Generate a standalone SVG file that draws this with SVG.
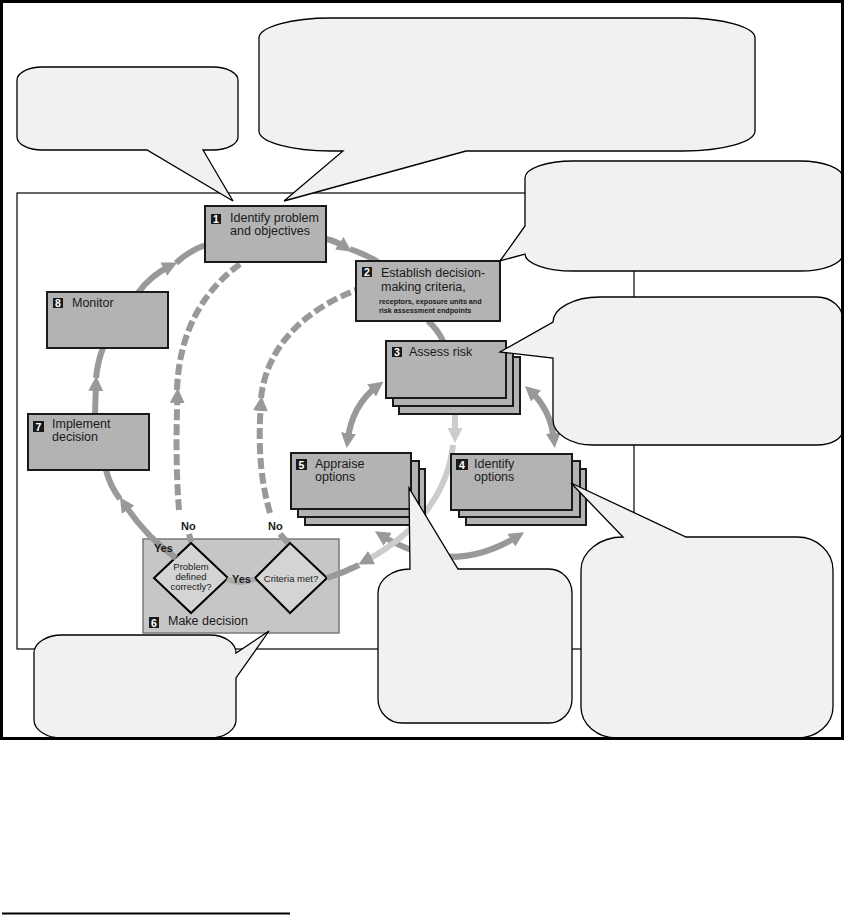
<svg xmlns="http://www.w3.org/2000/svg" width="844" height="915" viewBox="0 0 844 915">
<style>
.node{fill:#b3b3b3;stroke:#1a1a1a;stroke-width:2}
.callout{fill:#f1f1f1;stroke:#000;stroke-width:1.3}
.lbl{font-family:"Liberation Sans",Arial,sans-serif;font-size:12.5px;fill:#1a1a1a}
.tiny{font-family:"Liberation Sans",Arial,sans-serif;font-size:7.2px;font-weight:bold;fill:#1a1a1a}
.num{font-family:"Liberation Sans",Arial,sans-serif;font-size:10.5px;font-weight:bold;fill:#fff;text-anchor:middle}
.badge{fill:#1a1a1a}
.c{fill:none;stroke:#999;stroke-width:6}
.d{stroke-dasharray:11 4}
.light{stroke:#cccccc}
.yn{font-family:"Liberation Sans",Arial,sans-serif;font-weight:bold;font-size:11px;fill:#1a1a1a}
.dia{fill:#d4d4d4;stroke:#000;stroke-width:2}
.dt{font-family:"Liberation Sans",Arial,sans-serif;font-size:9.5px;fill:#1a1a1a;text-anchor:middle}
</style>
<defs>
<marker id="ah" viewBox="0 0 10 10" refX="5" refY="5" markerWidth="15" markerHeight="15" markerUnits="userSpaceOnUse" orient="auto-start-reverse"><path d="M0,0 L10,5 L0,10 z" fill="#999"/></marker>
<marker id="ahl" viewBox="0 0 10 10" refX="5" refY="5" markerWidth="15" markerHeight="15" markerUnits="userSpaceOnUse" orient="auto-start-reverse"><path d="M0,0 L10,5 L0,10 z" fill="#cccccc"/></marker>
</defs>
<rect x="0" y="0" width="844" height="915" fill="#fff"/>
<rect id="inner-frame" x="17" y="193" width="617" height="456" fill="none" stroke="#000" stroke-width="1.2"/>

<g id="node6">
<rect x="143" y="539" width="196" height="94" fill="#c6c6c6" stroke="#7a7a7a" stroke-width="1.5"/>
<polygon class="dia" points="191,543 228,578 191,613 154,578"/>
<text class="dt" x="191" y="570">Problem</text>
<text class="dt" x="191" y="580">defined</text>
<text class="dt" x="191" y="590">correctly?</text>
<polygon class="dia" points="290,543 327,578 290,613 255,578"/>
<text class="dt" x="291" y="582">Criteria met?</text>
<rect class="badge" x="149" y="617" width="10" height="11"/>
<text class="num" x="154" y="626.5">6</text>
<text class="lbl" x="168" y="625">Make decision</text>
</g>

<g id="connectors">
<path class="c" d="M95,414 L96,383.5" marker-end="url(#ah)"/>
<path class="c" d="M96,378 Q98,360 103,348"/>
<path class="c" d="M138,293 Q150,276 170.5,265.8" marker-end="url(#ah)"/>
<path class="c" d="M176,263 Q190,250 206,245"/>
<path class="c" d="M326,239 Q336,241 345.4,247.5" marker-end="url(#ah)"/>
<path class="c" d="M350,249 Q365,254 378,262"/>
<path class="c" d="M428,321 Q438,330 443,341"/>
<path class="c" d="M176,558 Q146,537 124,503.5" marker-end="url(#ah)"/>
<path class="c" d="M120,499 Q110,486 106,470"/>
<path class="c d" d="M179,510 Q175,460 177.5,395.5" marker-end="url(#ah)"/>
<path class="c d" d="M177,390 C179,330 205,288 243,262"/>
<path class="c d" d="M270,513 Q256,465 261,403.5" marker-end="url(#ah)"/>
<path class="c d" d="M261,398 C266,350 300,312 356,290"/>
<path class="c" d="M189,534 L191,542" stroke-width="5"/>
<path class="c" d="M280,534 L288,543" stroke-width="5"/>
<path class="c" d="M377.5,386 Q352,405 347.6,440.5" marker-start="url(#ah)" marker-end="url(#ah)"/>
<path class="c" d="M530.5,391 Q551,410 554,440.5" marker-start="url(#ah)" marker-end="url(#ah)"/>
<path class="c" d="M381.3,535.3 Q450,578 517.7,536.3" marker-start="url(#ah)" marker-end="url(#ah)"/>
<path class="c light" d="M455,413 L455,435.5" marker-end="url(#ahl)"/>
<path class="c light" d="M453,445 C448,490 420,532 365,561" marker-end="url(#ah)"/>
<path class="c" d="M359,565 Q343,573 327,578"/>
<path d="M227,579 Q241,586 255,579" fill="none" stroke="#aaa" stroke-width="5"/>
<text class="yn" x="154" y="552">Yes</text>
<text class="yn" x="232" y="583">Yes</text>
<text class="yn" x="181" y="530">No</text>
<text class="yn" x="268" y="530">No</text>
</g>

<g id="node1">
<rect class="node" x="205" y="206" width="121" height="56"/>
<rect class="badge" x="211" y="214" width="10" height="10"/>
<text class="num" x="216" y="223">1</text>
<text class="lbl" x="230" y="222">Identify problem</text>
<text class="lbl" x="230" y="235">and objectives</text>
</g>
<g id="node2">
<rect class="node" x="356" y="261" width="144" height="60"/>
<rect class="badge" x="362" y="267" width="10" height="10"/>
<text class="num" x="367" y="276">2</text>
<text class="lbl" x="381" y="277">Establish decision-</text>
<text class="lbl" x="381" y="291">making criteria,</text>
<text class="tiny" x="379" y="304">receptors, exposure units and</text>
<text class="tiny" x="379" y="313">risk assessment endpoints</text>
</g>
<g id="node3">
<rect class="node" x="399" y="357" width="121" height="57"/>
<rect class="node" x="393" y="349" width="120" height="57"/>
<rect class="node" x="386" y="341" width="120" height="57"/>
<rect class="badge" x="392" y="347" width="10" height="10"/>
<text class="num" x="397" y="356">3</text>
<text class="lbl" x="409" y="356">Assess risk</text>
</g>
<g id="node5">
<rect class="node" x="305" y="469" width="120" height="56"/>
<rect class="node" x="298" y="461" width="121" height="56"/>
<rect class="node" x="291" y="453" width="120" height="56"/>
<rect class="badge" x="296" y="459" width="11" height="11"/>
<text class="num" x="301.5" y="468.5">5</text>
<text class="lbl" x="315" y="468">Appraise</text>
<text class="lbl" x="315" y="481">options</text>
</g>
<g id="node4">
<rect class="node" x="466" y="469" width="120" height="56"/>
<rect class="node" x="459" y="461" width="121" height="56"/>
<rect class="node" x="451" y="454" width="121" height="56"/>
<rect class="badge" x="456" y="459" width="12" height="11"/>
<text class="num" x="462" y="468.5">4</text>
<text class="lbl" x="474" y="468">Identify</text>
<text class="lbl" x="474" y="481">options</text>
</g>
<g id="node8">
<rect class="node" x="47" y="292" width="121" height="56"/>
<rect class="badge" x="53" y="298" width="10" height="10"/>
<text class="num" x="58" y="307">8</text>
<text class="lbl" x="72" y="307">Monitor</text>
</g>
<g id="node7">
<rect class="node" x="28" y="414" width="121" height="56"/>
<rect class="badge" x="33" y="421" width="11" height="11"/>
<text class="num" x="38.5" y="430.5">7</text>
<text class="lbl" x="52" y="428">Implement</text>
<text class="lbl" x="52" y="441">decision</text>
</g>

<g id="callouts">
<path id="callout-a" class="callout" d="M42,67 H213 A25 13 0 0 1 238,80 V137 A25 13 0 0 1 213,150 H203 L233,201 L147,150 H42 A25 13 0 0 1 17,137 V80 A25 13 0 0 1 42,67 Z"/>
<path id="callout-b" class="callout" d="M331,18 H683 A72 20 0 0 1 755,38 V131 A72 20 0 0 1 683,151 H466 L284,201 L343,151 H331 A72 20 0 0 1 259,131 V38 A72 20 0 0 1 331,18 Z"/>
<path id="callout-c" class="callout" d="M573,161 H800 A43 17 0 0 1 843,178 V254 A43 17 0 0 1 800,271 H573 A48 17 0 0 1 525,254 L500,261 L525,226 V178 A48 17 0 0 1 573,161 Z"/>
<path id="callout-d" class="callout" d="M600,297 H817 A26 23 0 0 1 843,320 V430 A26 15 0 0 1 817,445 H593 A40 25 0 0 1 553,420 V358 L500,352 L553,322 A47 25 0 0 1 600,297 Z"/>
<path id="callout-e" class="callout" d="M62,635 H210 A26 18 0 0 1 236,653 L269,631 L236,678 V720 A26 18 0 0 1 210,738 H62 A28 18 0 0 1 34,720 V653 A28 18 0 0 1 62,635 Z"/>
<path id="callout-f" class="callout" d="M410,569 L409,488 L458,569 H549 A23 24 0 0 1 572,593 V699 A23 24 0 0 1 549,723 H402 A24 24 0 0 1 378,699 V593 A32 24 0 0 1 410,569 Z"/>
<path id="callout-g" class="callout" d="M623,537 L571,483 L686,537 H797 A36 33 0 0 1 833,570 V707 A36 31 0 0 1 797,738 H617 A36 31 0 0 1 581,707 V570 A42 33 0 0 1 623,537 Z"/>
</g>

<rect id="outer-frame" x="1.5" y="1.5" width="841" height="737" fill="none" stroke="#000" stroke-width="3"/>
<rect x="2" y="912.5" width="288" height="2" fill="#000"/>
</svg>
